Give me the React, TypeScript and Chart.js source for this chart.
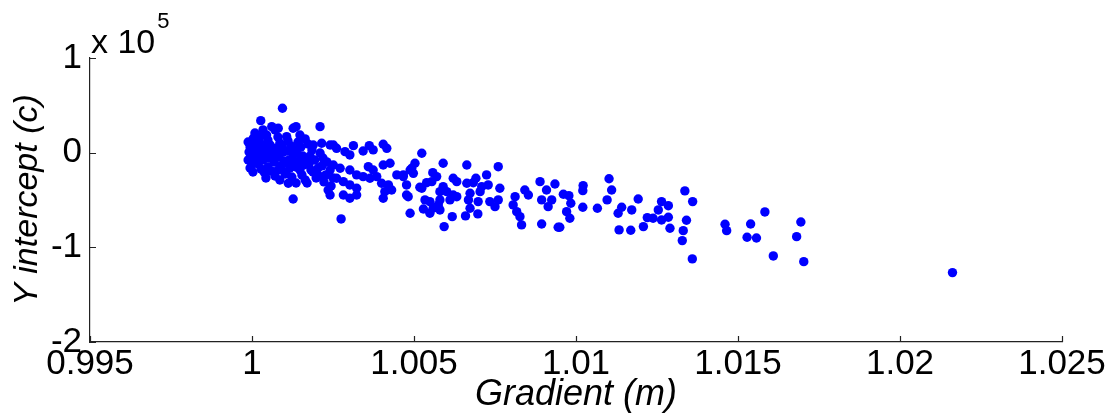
import React, { useEffect, useRef } from "react";
import { Chart, registerables } from "chart.js";

Chart.register(...registerables);

// Gradient (m) values
const gradient: number[] = [
  1.01336, 1.01360, 1.01264, 1.01285, 1.01254, 1.01238, 1.01264, 1.01285, 1.01341, 1.01290,
  1.01331, 1.01328, 1.01359, 1.01460, 1.01465, 1.01539, 1.01583, 1.01528, 1.01557, 1.01609,
  1.01694, 1.01681, 1.01703, 1.02162, 1.01102, 1.01110, 1.01022, 1.01021, 1.00961, 1.00978,
  1.00984, 1.00971, 1.00981, 1.01021, 1.01066, 1.01096, 1.00950, 1.01141, 1.01130, 1.01172,
  1.01192, 1.01133, 1.01169, 1.01208, 1.01220, 1.00524, 1.00590, 1.00663, 1.00760, 1.00724,
  1.00558, 1.00570, 1.00539, 1.00555, 1.00621, 1.00632, 1.00663, 1.00683, 1.00691, 1.00729,
  1.00709, 1.00590, 1.00518, 1.00765, 1.00580, 1.00601, 1.00621, 1.00632, 1.00673, 1.00704,
  1.00534, 1.00549, 1.00580, 1.00575, 1.00611, 1.00668, 1.00698, 1.00734, 1.00760, 1.00750,
  1.00529, 1.00559, 1.00580, 1.00549, 1.00673, 1.00618, 1.00659, 1.00697, 1.00593, 1.00812,
  1.00806, 1.00842, 1.00853, 1.00817, 1.00827, 1.00832, 1.00889, 1.00909, 1.00935, 1.00894,
  1.00914, 1.00925, 1.00894, 1.00945, 1.00503, 1.00467, 1.00488, 1.00498, 1.00477, 1.00482,
  1.00488, 1.00493, 1.00405, 1.00416, 1.00362, 1.00374, 1.00343, 1.00313, 1.00251, 1.00261,
  1.00287, 1.00302, 1.00405, 1.00426, 1.00359, 1.00374, 1.00302, 1.00323, 1.00251, 1.00272,
  1.00343, 1.00364, 1.00385, 1.00447, 1.00467, 1.00400, 1.00421, 1.00261, 1.00282, 1.00302,
  1.00323, 1.00410, 1.00431, 1.00241, 1.00282, 1.00302, 1.00323, 1.00477, 1.00524, 1.00405,
  1.00275, 1.00094, 1.00027, 1.00061, 1.00081, 1.00127, 1.00136, 1.00210, 1.00107, 1.00004,
  1.00025, 1.00045, 1.00112, 1.00127, 1.00189, 1.00215, 1.00241,
  0.99988, 0.99994, 0.99991, 0.99997, 0.99988, 1.00000, 0.99994, 1.00006, 1.00009, 1.00019,
  1.00025, 1.00015, 1.00031, 1.00022, 1.00034, 1.00019, 1.00028, 1.00040, 1.00037, 1.00049,
  1.00056, 1.00046, 1.00062, 1.00052, 1.00068, 1.00049, 1.00059, 1.00065, 1.00071, 1.00080,
  1.00086, 1.00077, 1.00096, 1.00083, 1.00099, 1.00089, 1.00080, 1.00102, 1.00093, 1.00111,
  1.00120, 1.00108, 1.00127, 1.00114, 1.00130, 1.00117, 1.00105, 1.00133, 1.00123, 1.00142,
  1.00151, 1.00139, 1.00157, 1.00145, 1.00160, 1.00148, 1.00154, 1.00164, 1.00173, 1.00185,
  1.00179, 1.00194, 1.00176, 1.00204, 1.00188, 1.00198, 1.00170, 1.00210, 1.00219, 1.00231,
  1.00216, 1.00241, 1.00228, 1.00250, 1.00222, 1.00244, 1.00235, 1.00009, 1.00034, 1.00148,
  1.00164, 1.00071, 1.00003, 1.00012, 1.00043, 1.00074, 1.00108, 1.00136, 1.00167, 1.00182,
  1.00207, 1.00136, 1.00043, 1.00086,
];

// Y intercept (c) values, in units of 10^5
const intercept: number[] = [
  -0.404, -0.517, -0.517, -0.560, -0.605, -0.693, -0.711, -0.682, -0.714, -0.798,
  -0.824, -0.929, -1.122, -0.756, -0.824, -0.753, -0.626, -0.893, -0.901, -1.091,
  -0.732, -0.887, -1.151, -1.267, -0.275, -0.394, -0.348, -0.401, -0.439, -0.454,
  -0.534, -0.623, -0.693, -0.577, -0.587, -0.499, -0.788, -0.577, -0.640, -0.605,
  -0.489, -0.816, -0.819, -0.781, -0.686, -0.006, -0.112, -0.130, -0.148, -0.235,
  -0.211, -0.253, -0.317, -0.306, -0.270, -0.306, -0.323, -0.317, -0.270, -0.341,
  -0.359, -0.359, -0.365, -0.376, -0.412, -0.412, -0.447, -0.465, -0.429, -0.412,
  -0.499, -0.517, -0.499, -0.552, -0.499, -0.499, -0.517, -0.517, -0.499, -0.570,
  -0.595, -0.587, -0.605, -0.640, -0.587, -0.676, -0.668, -0.647, -0.781, -0.465,
  -0.552, -0.394, -0.447, -0.623, -0.676, -0.763, -0.306, -0.394, -0.331, -0.499,
  -0.570, -0.499, -0.753, -0.788, -0.112, -0.235, -0.183, -0.218, -0.341, -0.465,
  -0.640, -0.165, 0.089, 0.046, 0.074, 0.029, 0.018, 0.074, 0.081, 0.046,
  0.011, -0.024, -0.130, -0.112, -0.148, -0.183, -0.183, -0.235, -0.130, -0.165,
  -0.253, -0.270, -0.253, -0.235, -0.253, -0.323, -0.341, -0.270, -0.306, -0.341,
  -0.376, -0.412, -0.394, -0.447, -0.447, -0.482, -0.447, -0.447, -0.376, -0.482,
  -0.700, 0.469, 0.338, 0.275, 0.258, 0.258, 0.275, 0.275, 0.169, 0.152,
  0.169, 0.187, -0.323, -0.489, 0.081, 0.099, 0.081,
  0.113, 0.060, 0.007, -0.035, -0.077, -0.119, -0.162, 0.029, -0.056, 0.155,
  0.102, 0.050, 0.018, -0.024, -0.077, -0.119, -0.172, 0.071, -0.204, 0.134,
  0.081, 0.029, -0.014, -0.056, -0.098, -0.151, -0.193, 0.039, -0.246, 0.166,
  0.102, 0.050, 0.007, -0.045, -0.088, -0.140, -0.183, -0.225, 0.071, 0.124,
  0.071, 0.018, -0.024, -0.077, -0.109, -0.162, -0.204, 0.029, -0.257, 0.113,
  0.060, -0.003, -0.035, -0.088, -0.130, -0.183, -0.235, -0.288, 0.092, 0.029,
  -0.035, -0.077, -0.119, -0.162, -0.204, -0.267, -0.320, -0.003, -0.056, -0.098,
  -0.140, -0.183, -0.235, -0.267, -0.309, -0.352, -0.394, 0.208, 0.240, 0.187,
  0.145, 0.240, -0.204, 0.092, -0.056, -0.024, -0.109, -0.151, -0.077, -0.183,
  -0.246, -0.320, -0.267, -0.288,
];

const xTickValues: number[] = [0.995, 1.0, 1.005, 1.01, 1.015, 1.02, 1.025];
const xTickLabels: string[] = ["0.995", "1", "1.005", "1.01", "1.015", "1.02", "1.025"];
const yTickValues: number[] = [-2, -1, 0, 1];
const yTickLabels: string[] = ["-2", "-1", "0", "1"];

const FONT = "'Liberation Sans', Arial, sans-serif";

const inwardTicks = {
  id: "inwardTicks",
  afterDraw(chart: any) {
    const ctx = chart.ctx;
    const xs = chart.scales.x;
    const ys = chart.scales.y;
    const area = chart.chartArea;
    ctx.save();
    ctx.strokeStyle = "#222";
    ctx.lineWidth = 1.2;
    ctx.beginPath();
    xTickValues.forEach((v) => {
      const px = Math.round(xs.getPixelForValue(v)) + 0.5;
      ctx.moveTo(px, area.bottom);
      ctx.lineTo(px, area.bottom - 6);
    });
    yTickValues.forEach((v) => {
      const py = Math.round(ys.getPixelForValue(v)) + 0.5;
      ctx.moveTo(area.left, py);
      ctx.lineTo(area.left + 6, py);
    });
    ctx.stroke();
    // exponent label
    ctx.fillStyle = "#000";
    ctx.textBaseline = "alphabetic";
    ctx.textAlign = "left";
    ctx.font = `34px ${FONT}`;
    ctx.fillText("x 10", area.left + 1, 53);
    const w = ctx.measureText("x 10").width;
    ctx.font = `22px ${FONT}`;
    ctx.fillText("5", area.left + w + 3, 28);
    ctx.restore();
  },
};

export default function App() {
  const ref = useRef<HTMLCanvasElement | null>(null);
  useEffect(() => {
    if (!ref.current) return;
    const points = gradient.map((g, i) => ({ x: g, y: intercept[i] }));
    const chart = new Chart(ref.current, {
      type: "scatter",
      data: {
        datasets: [
          {
            data: points,
            backgroundColor: "#0000ff",
            borderColor: "#0000ff",
            borderWidth: 0,
            pointRadius: 4.7,
            pointHoverRadius: 4.7,
          },
        ],
      },
      options: {
        responsive: false,
        animation: false,
        events: [],
        layout: { padding: { left: 0, right: 55, top: 58, bottom: 0 } },
        plugins: { legend: { display: false }, tooltip: { enabled: false } },
        scales: {
          x: {
            type: "linear",
            min: 0.995,
            max: 1.025,
            afterBuildTicks: (s: any) => {
              s.ticks = xTickValues.map((v) => ({ value: v }));
            },
            afterFit: (s: any) => {
              s.height = 74;
            },
            grid: { display: false, drawTicks: false },
            border: { display: true, color: "#222", width: 1.2 },
            ticks: {
              color: "#000",
              padding: 1,
              maxRotation: 0,
              autoSkip: false,
              font: { family: FONT, size: 35 },
              callback: (v: any) => {
                const i = xTickValues.findIndex((t) => Math.abs(t - Number(v)) < 1e-9);
                return i >= 0 ? xTickLabels[i] : "";
              },
            },
            title: {
              display: true,
              text: "Gradient (m)",
              color: "#000",
              padding: { top: 0, bottom: -1 },
              font: { family: FONT, size: 36, style: "italic" },
            },
          },
          y: {
            type: "linear",
            min: -2,
            max: 1,
            afterBuildTicks: (s: any) => {
              s.ticks = yTickValues.map((v) => ({ value: v }));
            },
            afterFit: (s: any) => {
              s.width = 90;
            },
            grid: { display: false, drawTicks: false },
            border: { display: true, color: "#222", width: 1.2 },
            ticks: {
              color: "#000",
              padding: 8,
              autoSkip: false,
              font: { family: FONT, size: 35 },
              callback: (v: any) => {
                const i = yTickValues.findIndex((t) => Math.abs(t - Number(v)) < 1e-9);
                return i >= 0 ? yTickLabels[i] : "";
              },
            },
            title: {
              display: true,
              text: "Y intercept (c)",
              color: "#000",
              padding: { top: 7, bottom: 0 },
              font: { family: FONT, size: 34, style: "italic" },
            },
          },
        },
      },
      plugins: [inwardTicks],
    });
    return () => chart.destroy();
  }, []);
  return (
    <canvas
      ref={ref}
      width={1117}
      height={416}
      style={{ position: "fixed", left: 0, top: 0, width: 1117, height: 416, background: "#fff" }}
    />
  );
}
